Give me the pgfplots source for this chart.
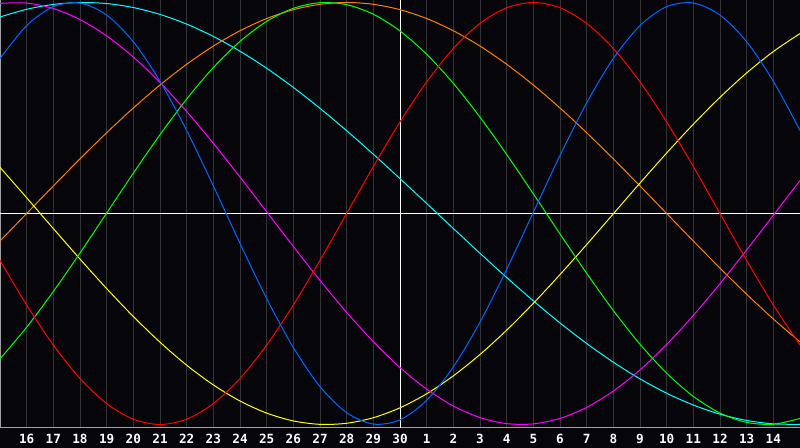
\documentclass[border=0pt]{standalone}
\usepackage{fontspec}
\usepackage{pgfplots}
\pgfplotsset{compat=1.18}
\newfontfamily\labfont{DejaVu Sans Mono}
\definecolor{bgcol}{RGB}{6,6,10}
\definecolor{gridcol}{RGB}{52,52,56}
\definecolor{framecol}{RGB}{160,160,160}
\definecolor{cred}{RGB}{255,0,0}
\definecolor{cgreen}{RGB}{0,255,0}
\definecolor{cblue}{RGB}{0,102,255}
\definecolor{cmag}{RGB}{255,0,255}
\definecolor{cyel}{RGB}{255,255,0}
\definecolor{corange}{RGB}{255,128,0}
\definecolor{ccyan}{RGB}{0,255,255}
\begin{document}
\begin{tikzpicture}
\useasboundingbox (0,-15pt) rectangle (600pt,321pt);
\fill[bgcol] (0,-15pt) rectangle (600pt,321pt);
\begin{axis}[
  at={(0,0)}, anchor=south west,
  scale only axis, width=600pt, height=321pt,
  xmin=-15, xmax=15, ymin=-1.0166, ymax=1.0118,
  axis line style={draw=framecol, line width=0.75pt},
  xtick={-14,-13,-12,-11,-10,-9,-8,-7,-6,-5,-4,-3,-2,-1,0,1,2,3,4,5,6,7,8,9,10,11,12,13,14},
  xticklabels={16,17,18,19,20,21,22,23,24,25,26,27,28,29,30,1,2,3,4,5,6,7,8,9,10,11,12,13,14},
  ytick=\empty,
  major tick length=0pt,
  xmajorgrids,
  major grid style={draw=gridcol, line width=0.75pt},
  xticklabel style={font=\labfont\bfseries\fontsize{9.5}{11}\selectfont, text=white, anchor=center, yshift=-8.25pt},
  every axis plot/.append style={line width=0.75pt, smooth, no markers},
  clip=true,
]
\draw[white, line width=0.75pt] (axis cs:0,-1.0166) -- (axis cs:0,1.0118);
\draw[white, line width=0.75pt] (axis cs:-15,0) -- (axis cs:15,0);
% cyan (53)
\addplot[ccyan] coordinates {(-15,0.9311)(-14,0.9677)(-13,0.9907)(-12,0.9998)(-11,0.9949)(-10,0.9760)(-9,0.9435)(-8,0.8976)(-7,0.8392)(-6,0.7690)(-5,0.6883)(-4,0.5975)(-3,0.4983)(-2,0.3922)(-1,0.2807)(0,0.1652)(1,0.0475)(2,-0.0711)(3,-0.1886)(4,-0.3034)(5,-0.4140)(6,-0.5188)(7,-0.6161)(8,-0.7049)(9,-0.7838)(10,-0.8518)(11,-0.9078)(12,-0.9511)(13,-0.9809)(14,-0.9970)(15,-0.9991)};
% orange (48)
\addplot[corange] coordinates {(-15,-0.1305)(-14,0)(-13,0.1305)(-12,0.2588)(-11,0.3827)(-10,0.5)(-9,0.6088)(-8,0.7071)(-7,0.7934)(-6,0.8660)(-5,0.9239)(-4,0.9659)(-3,0.9914)(-2,1)(-1,0.9914)(0,0.9659)(1,0.9239)(2,0.8660)(3,0.7934)(4,0.7071)(5,0.6088)(6,0.5)(7,0.3827)(8,0.2588)(9,0.1305)(10,0)(11,-0.1305)(12,-0.2588)(13,-0.3827)(14,-0.5)(15,-0.6088)};
% yellow (43)
\addplot[cyel] coordinates {(-15,0.2188)(-14,0.0745)(-13,-0.0715)(-12,-0.2159)(-11,-0.3559)(-10,-0.4881)(-9,-0.6100)(-8,-0.7189)(-7,-0.8124)(-6,-0.8887)(-5,-0.9460)(-4,-0.9831)(-3,-0.9993)(-2,-0.9942)(-1,-0.9678)(0,-0.9209)(1,-0.8544)(2,-0.7694)(3,-0.6682)(4,-0.5529)(5,-0.4258)(6,-0.2895)(7,-0.1471)(8,-0.0014)(9,0.1442)(10,0.2867)(11,0.4231)(12,0.5505)(13,0.6662)(14,0.7676)(15,0.8528)};
% magenta (38)
\addplot[cmag] coordinates {(-15,0.9959)(-14,0.9972)(-13,0.9714)(-12,0.9190)(-11,0.8418)(-10,0.7414)(-9,0.6211)(-8,0.4831)(-7,0.3325)(-6,0.1728)(-5,0.0082)(-4,-0.1564)(-3,-0.3168)(-2,-0.4685)(-1,-0.6076)(0,-0.7302)(1,-0.8326)(2,-0.9124)(3,-0.9673)(4,-0.9959)(5,-0.9972)(6,-0.9714)(7,-0.9190)(8,-0.8417)(9,-0.7414)(10,-0.6209)(11,-0.4831)(12,-0.3325)(13,-0.1728)(14,-0.0082)(15,0.1564)};
% green (33)
\addplot[cgreen] coordinates {(-15,-0.6887)(-14,-0.5391)(-13,-0.3699)(-12,-0.1874)(-11,0.0019)(-10,0.1911)(-9,0.3735)(-8,0.5423)(-7,0.6915)(-6,0.8156)(-5,0.9104)(-4,0.9723)(-3,0.9990)(-2,0.9896)(-1,0.9444)(0,0.8651)(1,0.7545)(2,0.6169)(3,0.4565)(4,0.2798)(5,0.0932)(6,-0.0969)(7,-0.2835)(8,-0.4599)(9,-0.6196)(10,-0.7570)(11,-0.8669)(12,-0.9457)(13,-0.9901)(14,-0.9988)(15,-0.9713)};
% red (28)
\addplot[cred] coordinates {(-15,-0.2225)(-14,-0.4339)(-13,-0.6235)(-12,-0.7818)(-11,-0.9010)(-10,-0.9749)(-9,-1)(-8,-0.9749)(-7,-0.9010)(-6,-0.7818)(-5,-0.6235)(-4,-0.4339)(-3,-0.2225)(-2,0)(-1,0.2225)(0,0.4339)(1,0.6235)(2,0.7818)(3,0.9010)(4,0.9749)(5,1)(6,0.9749)(7,0.9010)(8,0.7818)(9,0.6235)(10,0.4339)(11,0.2225)(12,0)(13,-0.2225)(14,-0.4339)(15,-0.6235)};
% blue (23)
\addplot[cblue] coordinates {(-15,0.7346)(-14,0.8904)(-13,0.9802)(-12,0.9973)(-11,0.9404)(-10,0.8138)(-9,0.6268)(-8,0.3934)(-7,0.1307)(-6,-0.1416)(-5,-0.4033)(-4,-0.6354)(-3,-0.8202)(-2,-0.9441)(-1,-0.9980)(0,-0.9780)(1,-0.8854)(2,-0.7273)(3,-0.5149)(4,-0.2646)(5,0.0054)(6,0.2750)(7,0.5243)(8,0.7347)(9,0.8905)(10,0.9802)(11,0.9973)(12,0.9404)(13,0.8138)(14,0.6268)(15,0.3934)};
\end{axis}
\end{tikzpicture}
\end{document}
